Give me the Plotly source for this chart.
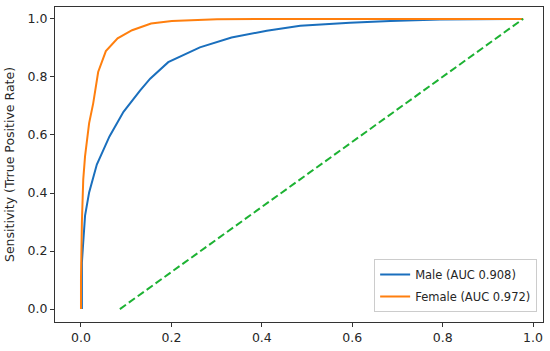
import plotly.graph_objects as go

# Male ROC curve (FPR, TPR)
male_fpr = [0.002, 0.002, 0.004, 0.009, 0.018, 0.035, 0.063, 0.094, 0.131, 0.153,
            0.193, 0.263, 0.333, 0.411, 0.485, 0.595, 0.684, 0.794, 0.978]
male_tpr = [0.0, 0.16, 0.208, 0.322, 0.402, 0.498, 0.595, 0.680, 0.754, 0.794,
            0.851, 0.902, 0.936, 0.959, 0.976, 0.987, 0.993, 0.998, 1.0]

# Female ROC curve (FPR, TPR)
female_fpr = [0.0, 0.0, 0.002, 0.005, 0.009, 0.018, 0.027, 0.038, 0.055, 0.081,
              0.113, 0.155, 0.201, 0.301, 0.595, 0.978]
female_tpr = [0.0, 0.106, 0.30, 0.447, 0.527, 0.641, 0.709, 0.817, 0.889, 0.933,
              0.961, 0.984, 0.993, 0.999, 1.0, 1.0]

# Reference diagonal
diag_x = [0.086, 0.978]
diag_y = [0.0, 1.0]

tick_vals = [0.0, 0.2, 0.4, 0.6, 0.8, 1.0]
tick_text = ["0.0", "0.2", "0.4", "0.6", "0.8", "1.0"]

FONT = "DejaVu Sans, Liberation Sans, sans-serif"
TXT = "#262626"

fig = go.Figure()
fig.add_trace(go.Scatter(x=male_fpr, y=male_tpr, mode="lines",
                         name="Male (AUC 0.908)", legendgroup="m",
                         line=dict(color="#1a6fbd", width=2)))
fig.add_trace(go.Scatter(x=female_fpr, y=female_tpr, mode="lines",
                         name="Female (AUC 0.972)", legendgroup="f",
                         line=dict(color="#ff7f0e", width=2)))
fig.add_trace(go.Scatter(x=diag_x, y=diag_y, mode="lines", showlegend=False,
                         line=dict(color="#1db233", width=2, dash="7.5px,3.5px")))

axis_common = dict(showgrid=False, zeroline=False, showline=True, mirror=True,
                   linecolor="#333333", linewidth=1, ticks="outside", ticklen=4,
                   tickwidth=1, tickcolor="#333333",
                   tickfont=dict(family=FONT, size=12.5, color=TXT))

fig.update_layout(
    width=550, height=351,
    margin=dict(l=55, r=7, t=6, b=27),
    paper_bgcolor="white", plot_bgcolor="white",
    font=dict(family=FONT, size=12.5, color=TXT),
    xaxis=dict(range=[-0.0575, 1.022], tickvals=tick_vals, ticktext=tick_text,
               **axis_common),
    yaxis=dict(range=[-0.0444, 1.041], tickvals=tick_vals, ticktext=tick_text,
               title=dict(text="Sensitivity (Trrue Positive Rate)",
                          font=dict(family=FONT, size=12.5, color=TXT), standoff=10),
               **axis_common),
    legend=dict(x=0.988, y=0.032, xanchor="right", yanchor="bottom",
                bgcolor="rgba(255,255,255,0.85)", bordercolor="#cccccc",
                borderwidth=1, tracegroupgap=3,
                font=dict(family=FONT, size=11.5, color=TXT)),
    showlegend=True,
)

fig.write_html("out.html",
               config={"displayModeBar": False},
               post_script="document.body.style.margin='0';document.body.style.padding='0';")
